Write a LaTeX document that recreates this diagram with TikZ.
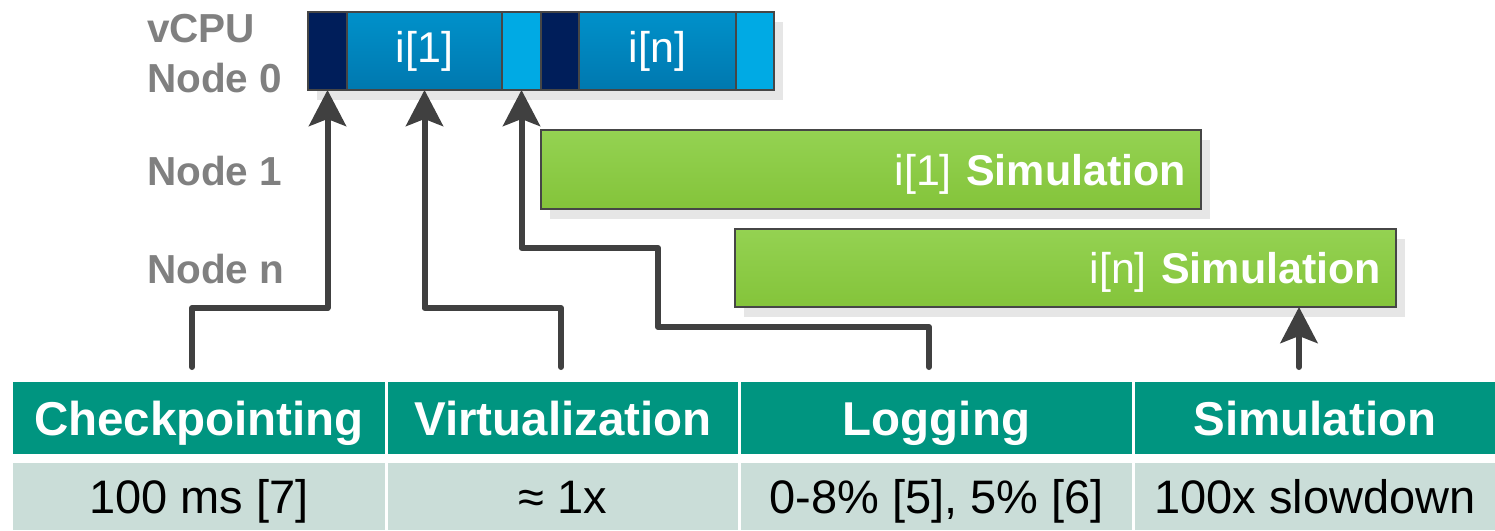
\documentclass[tikz,border=0pt]{standalone}
\usepackage{fontspec}
\setmainfont{Liberation Sans}
\usetikzlibrary{arrows.meta,backgrounds,calc}

\definecolor{edgegray}{RGB}{70,70,70}
\definecolor{shadowgray}{RGB}{230,230,230}
\definecolor{labelgray}{RGB}{128,128,128}
\definecolor{navy}{RGB}{0,30,90}
\definecolor{midblueT}{RGB}{0,145,202}
\definecolor{midblueB}{RGB}{0,120,175}
\definecolor{lightblue}{RGB}{0,170,228}
\definecolor{greenT}{RGB}{148,210,82}
\definecolor{greenB}{RGB}{132,196,58}
\definecolor{teal}{RGB}{0,149,128}
\definecolor{paleteal}{RGB}{202,221,216}
\definecolor{arrowgray}{RGB}{64,64,64}

\begin{document}
\begin{tikzpicture}[x=1pt,y=-1pt,
  cell/.style={draw=edgegray, line width=1.2pt, inner sep=0pt, outer sep=0pt,
    minimum height=78pt, anchor=north west, text=white,
    font=\fontsize{43}{47}\selectfont},
  darkcell/.style={cell, fill=navy},
  midcell/.style={cell, top color=midblueT, bottom color=midblueB},
  lightcell/.style={cell, fill=lightblue},
  simbox/.style={draw=edgegray, line width=1.2pt, inner ysep=0pt, inner xsep=15pt,
    outer sep=0pt, anchor=north west, top color=greenT, bottom color=greenB,
    text=white, align=right, font=\fontsize{43}{47}\selectfont,
    text height=31pt, text depth=0pt},
  rowlabel/.style={anchor=base west, inner sep=0pt, text=labelgray,
    font=\fontsize{40.5}{44}\selectfont\bfseries},
  headcell/.style={fill=teal, inner sep=0pt, outer sep=0pt, anchor=north west,
    minimum height=72pt, text=white, font=\fontsize{47.5}{51}\selectfont\bfseries,
    text height=34pt, text depth=0pt},
  bodycell/.style={fill=paleteal, inner sep=0pt, outer sep=0pt, anchor=north west,
    minimum height=67pt, text=black, font=\fontsize{47}{51}\selectfont,
    text height=34pt, text depth=0pt},
  conn/.style={draw=arrowgray, line width=6pt, line cap=round, line join=round,
    -{Stealth[length=36pt, width=37pt, inset=7pt]}},
  shadowbox/.style={fill=shadowgray}
]
\useasboundingbox (0,0) rectangle (1495,530);

% row labels
\node[rowlabel] (lv) at (147,42) {vCPU};
\node[rowlabel] (l0) at (147,92) {Node 0};
\node[rowlabel] (l1) at (147,185) {Node 1};
\node[rowlabel] (ln) at (147,283) {Node n};

% vCPU timeline on node 0
\node[darkcell,  minimum width=39pt]  (c1) at (308,12) {};
\node[midcell,   minimum width=155pt] (c2) at (347,12) {i[1]};
\node[lightcell, minimum width=39pt]  (c3) at (502,12) {};
\node[darkcell,  minimum width=38pt]  (c4) at (541,12) {};
\node[midcell,   minimum width=157pt] (c5) at (579,12) {i[n]};
\node[lightcell, minimum width=38pt]  (c6) at (736,12) {};

% simulation runs on nodes 1..n
\node[simbox, minimum width=660pt, minimum height=79pt, text width=630pt] (g1) at (541,130)
  {i[1] \textbf{Simulation}};
\node[simbox, minimum width=661pt, minimum height=78pt, text width=631pt] (g2) at (735,229)
  {i[n] \textbf{Simulation}};

% drop shadows
\begin{scope}[on background layer]
  \fill[shadowbox] ($(c1.north west)+(9,10)$) rectangle ($(c6.south east)+(9,10)$);
  \fill[shadowbox] ($(g1.north west)+(9,10)$) rectangle ($(g1.south east)+(9,10)$);
  \fill[shadowbox] ($(g2.north west)+(9,10)$) rectangle ($(g2.south east)+(9,10)$);
\end{scope}

% table of techniques
\node[headcell, minimum width=372pt] (h1) at (13,382)   {Checkpointing};
\node[headcell, minimum width=350pt] (h2) at (388,382)  {Virtualization};
\node[headcell, minimum width=391pt] (h3) at (741,382)  {Logging};
\node[headcell, minimum width=360pt] (h4) at (1135,382) {Simulation};
\node[bodycell, minimum width=372pt] (b1) at (13,463)   {100 ms [7]};
\node[bodycell, minimum width=350pt] (b2) at (388,463)  {≈ 1x};
\node[bodycell, minimum width=391pt] (b3) at (741,463)  {0-8\% [5], 5\% [6]};
\node[bodycell, minimum width=360pt] (b4) at (1135,463) {100x slowdown};

% connector start points above the header cells
\coordinate (s1) at (192,367);
\coordinate (s2) at (561,367);
\coordinate (s3) at (929,367);
\coordinate (s4) at (1299,367);

\draw[conn] (s1) -- ++(0,-59) -| (c1.south);
\draw[conn] (s2) -- ++(0,-59) -| (c2.south);
\draw[conn] (s3) -- ++(0,-40) -- ++(-271,0) -- ++(0,-79) -| (c3.south);
\draw[conn] (s4) -- (s4 |- g2.south);
\end{tikzpicture}
\end{document}
